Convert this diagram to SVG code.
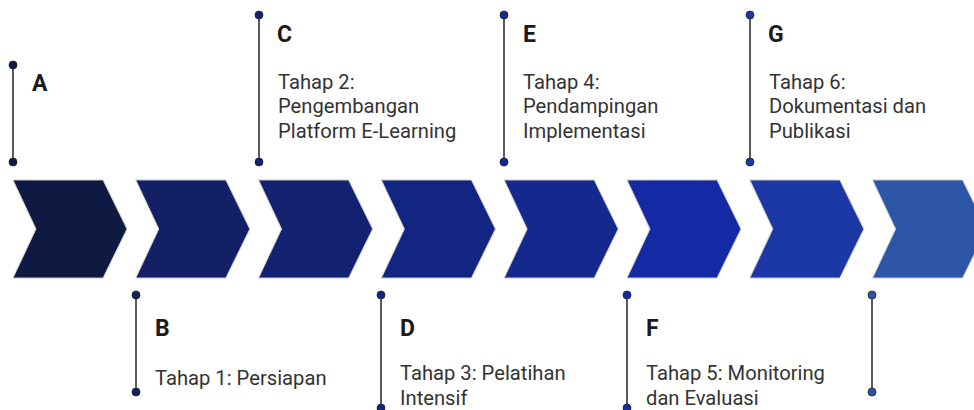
<svg xmlns="http://www.w3.org/2000/svg" width="974" height="410" viewBox="0 0 974 410">
<style>
.chev{stroke:#c8c8c8;stroke-width:1}
.ln{stroke:#333;stroke-width:1.6;fill:none}
.dot{stroke:#222;stroke-width:0.8}
.lbl{font-family:Roboto,"Liberation Sans",sans-serif;font-weight:700;font-size:23px;fill:#1a1a1a}
.txt{font-family:Roboto,"Liberation Sans",sans-serif;font-size:20.2px;fill:#333}
</style>
<defs>
<path id="chevron" d="M0,180 L90,180 L114,229 L90,278 L0,278 L23,229 Z"/>
</defs>
<rect width="974" height="410" fill="#fff"/>
<g id="connectors">
<line class="ln" x1="13" y1="65" x2="13" y2="162"/>
<line class="ln" x1="136" y1="295" x2="136" y2="392"/>
<line class="ln" x1="259" y1="15" x2="259" y2="162"/>
<line class="ln" x1="381" y1="295" x2="381" y2="412"/>
<line class="ln" x1="504" y1="15" x2="504" y2="162"/>
<line class="ln" x1="627" y1="295" x2="627" y2="412"/>
<line class="ln" x1="750" y1="15" x2="750" y2="162"/>
<line class="ln" x1="872" y1="295" x2="872" y2="392"/>
</g>
<g id="chevron1"><use href="#chevron" x="13" class="chev" fill="#0f1a42"/></g>
<g id="chevron2"><use href="#chevron" x="135.8" class="chev" fill="#132066"/></g>
<g id="chevron3"><use href="#chevron" x="258.6" class="chev" fill="#132270"/></g>
<g id="chevron4"><use href="#chevron" x="381.4" class="chev" fill="#132582"/></g>
<g id="chevron5"><use href="#chevron" x="504.2" class="chev" fill="#14288e"/></g>
<g id="chevron6"><use href="#chevron" x="627" class="chev" fill="#1429a4"/></g>
<g id="chevron7"><use href="#chevron" x="749.8" class="chev" fill="#1b38a6"/></g>
<g id="chevron8"><use href="#chevron" x="872.6" class="chev" fill="#2c55a8"/></g>
<g id="nodeA">
<circle class="dot" cx="13" cy="65" r="4" fill="#0f1a42"/>
<circle class="dot" cx="13" cy="162" r="4" fill="#0f1a42"/>
<text class="lbl" x="32" y="91">A</text>
</g>
<g id="nodeB">
<circle class="dot" cx="136" cy="295" r="4" fill="#132066"/>
<circle class="dot" cx="136" cy="392" r="4" fill="#132066"/>
<text class="lbl" x="155" y="336">B</text>
<text class="txt" x="155" y="385">Tahap 1: Persiapan</text>
</g>
<g id="nodeC">
<circle class="dot" cx="259" cy="15" r="4" fill="#132270"/>
<circle class="dot" cx="259" cy="162" r="4" fill="#132270"/>
<text class="lbl" x="277" y="42">C</text>
<text class="txt" x="278" y="89">Tahap 2:</text>
<text class="txt" x="278" y="113">Pengembangan</text>
<text class="txt" x="278" y="138">Platform E-Learning</text>
</g>
<g id="nodeD">
<circle class="dot" cx="381" cy="295" r="4" fill="#132582"/>
<circle class="dot" cx="381" cy="408" r="4" fill="#132582"/>
<text class="lbl" x="400" y="336">D</text>
<text class="txt" x="400" y="380">Tahap 3: Pelatihan</text>
<text class="txt" x="400" y="405">Intensif</text>
</g>
<g id="nodeE">
<circle class="dot" cx="504" cy="15" r="4" fill="#14288e"/>
<circle class="dot" cx="504" cy="162" r="4" fill="#14288e"/>
<text class="lbl" x="523" y="42">E</text>
<text class="txt" x="523" y="89">Tahap 4:</text>
<text class="txt" x="523" y="113">Pendampingan</text>
<text class="txt" x="523" y="138">Implementasi</text>
</g>
<g id="nodeF">
<circle class="dot" cx="627" cy="295" r="4" fill="#1429a4"/>
<circle class="dot" cx="627" cy="408" r="4" fill="#1429a4"/>
<text class="lbl" x="646" y="336">F</text>
<text class="txt" x="646" y="380">Tahap 5: Monitoring</text>
<text class="txt" x="646" y="405">dan Evaluasi</text>
</g>
<g id="nodeG">
<circle class="dot" cx="750" cy="15" r="4" fill="#1b38a6"/>
<circle class="dot" cx="750" cy="162" r="4" fill="#1b38a6"/>
<text class="lbl" x="768" y="42">G</text>
<text class="txt" x="769" y="89">Tahap 6:</text>
<text class="txt" x="769" y="113">Dokumentasi dan</text>
<text class="txt" x="769" y="138">Publikasi</text>
</g>
<g id="nodeH">
<circle class="dot" cx="872" cy="295" r="4" fill="#2c55a8"/>
<circle class="dot" cx="872" cy="392" r="4" fill="#2c55a8"/>
</g>
</svg>
